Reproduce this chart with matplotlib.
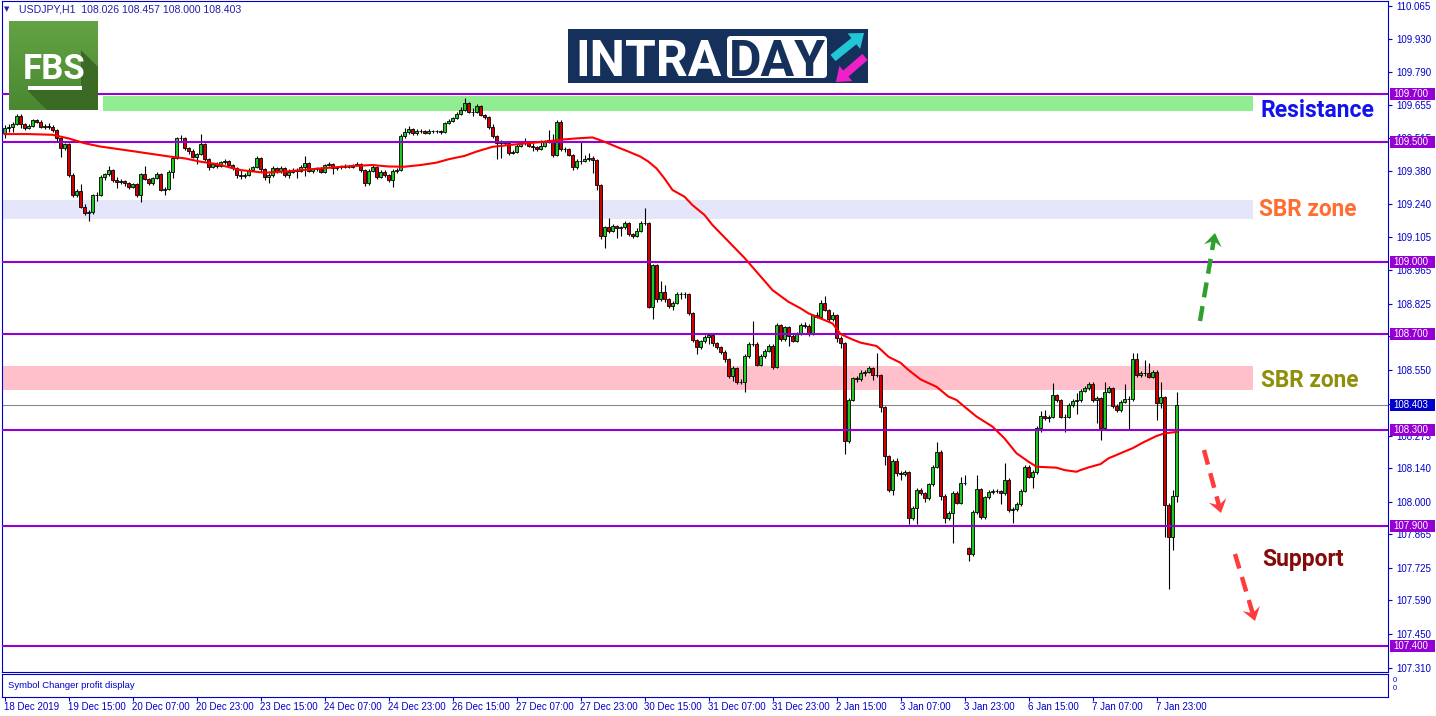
import numpy as np
import matplotlib
matplotlib.use("Agg")
import matplotlib.pyplot as plt
from matplotlib.patches import Rectangle, Polygon, FancyBboxPatch, FancyArrow
from matplotlib.transforms import blended_transform_factory

plt.rcParams['font.family'] = ['Liberation Sans', 'DejaVu Sans']

# ---------------- data (USDJPY H1) ----------------
first_open = 109.536
closes = [
    109.557, 109.564, 109.574, 109.610, 109.574, 109.557, 109.567, 109.592, 109.585, 109.564,  # 0
    109.568, 109.563, 109.549, 109.515, 109.474, 109.490, 109.363, 109.279, 109.296, 109.231,  # 10
    109.203, 109.207, 109.279, 109.279, 109.356, 109.365, 109.383, 109.342, 109.332, 109.338,  # 20
    109.329, 109.314, 109.324, 109.279, 109.365, 109.346, 109.328, 109.349, 109.365, 109.300,  # 30
    109.303, 109.377, 109.432, 109.515, 109.515, 109.474, 109.463, 109.439, 109.449, 109.490,  # 40
    109.429, 109.397, 109.408, 109.401, 109.415, 109.421, 109.404, 109.390, 109.363, 109.358,  # 50
    109.363, 109.383, 109.395, 109.432, 109.386, 109.353, 109.363, 109.390, 109.381, 109.390,  # 60
    109.363, 109.377, 109.383, 109.381, 109.397, 109.414, 109.381, 109.386, 109.389, 109.377,  # 70
    109.404, 109.409, 109.390, 109.395, 109.400, 109.397, 109.397, 109.403, 109.409, 109.383,  # 80
    109.331, 109.381, 109.397, 109.353, 109.377, 109.363, 109.342, 109.381, 109.383, 109.525,  # 90
    109.543, 109.553, 109.536, 109.545, 109.547, 109.539, 109.545, 109.547, 109.545, 109.542,  # 100
    109.578, 109.589, 109.599, 109.617, 109.633, 109.661, 109.627, 109.625, 109.650, 109.613,  # 110
    109.603, 109.564, 109.525, 109.494, 109.500, 109.494, 109.453, 109.460, 109.483, 109.494,  # 120
    109.500, 109.485, 109.480, 109.470, 109.485, 109.500, 109.510, 109.446, 109.585, 109.469,  # 130
    109.469, 109.446, 109.394, 109.422, 109.422, 109.430, 109.432, 109.425, 109.321, 109.108,  # 140
    109.144, 109.130, 109.150, 109.142, 109.144, 109.164, 109.116, 109.110, 109.130, 109.164,  # 150
    109.162, 108.814, 108.987, 108.844, 108.876, 108.844, 108.817, 108.830, 108.867, 108.867,  # 160
    108.867, 108.789, 108.675, 108.644, 108.670, 108.686, 108.696, 108.661, 108.647, 108.626,  # 170
    108.594, 108.525, 108.557, 108.501, 108.501, 108.608, 108.658, 108.658, 108.571, 108.608,  # 180
    108.630, 108.650, 108.564, 108.737, 108.680, 108.728, 108.692, 108.672, 108.700, 108.737,  # 190
    108.735, 108.700, 108.779, 108.772, 108.830, 108.800, 108.761, 108.779, 108.682, 108.661,  # 200
    108.255, 108.425, 108.515, 108.511, 108.536, 108.543, 108.557, 108.529, 108.529, 108.394,  # 210
    108.191, 108.050, 108.172, 108.119, 108.115, 108.126, 107.932, 107.977, 108.052, 108.036,  # 220
    108.015, 108.075, 108.147, 108.210, 108.025, 107.932, 107.953, 108.039, 107.997, 108.078,  # 230
    108.078, 107.783, 107.960, 108.053, 107.939, 108.019, 108.043, 108.047, 108.047, 108.036,  # 240
    108.092, 107.967, 107.970, 107.992, 108.047, 108.147, 108.106, 108.126, 108.307, 108.358,  # 250
    108.350, 108.353, 108.446, 108.425, 108.356, 108.356, 108.404, 108.422, 108.425, 108.464,  # 260
    108.474, 108.492, 108.425, 108.432, 108.307, 108.460, 108.474, 108.400, 108.383, 108.418,  # 270
    108.428, 108.428, 108.594, 108.529, 108.536, 108.536, 108.522, 108.543, 108.414, 108.436,  # 280
    107.988, 107.853, 108.026, 108.403,                                                        # 290
]
highs = [
    109.571, 109.574, 109.585, 109.617, 109.615, 109.580, 109.575, 109.596, 109.597, 109.590,
    109.577, 109.580, 109.570, 109.556, 109.520, 109.497, 109.495, 109.370, 109.305, 109.325,
    109.240, 109.215, 109.285, 109.290, 109.362, 109.372, 109.402, 109.388, 109.355, 109.345,
    109.342, 109.335, 109.330, 109.328, 109.372, 109.402, 109.352, 109.356, 109.375, 109.370,
    109.312, 109.385, 109.440, 109.520, 109.528, 109.520, 109.480, 109.470, 109.455, 109.532,
    109.494, 109.432, 109.414, 109.415, 109.420, 109.430, 109.425, 109.410, 109.395, 109.385,
    109.370, 109.390, 109.402, 109.442, 109.436, 109.390, 109.372, 109.398, 109.396, 109.398,
    109.395, 109.388, 109.392, 109.390, 109.405, 109.440, 109.418, 109.392, 109.396, 109.394,
    109.410, 109.416, 109.412, 109.401, 109.406, 109.408, 109.406, 109.410, 109.418, 109.412,
    109.388, 109.388, 109.405, 109.400, 109.384, 109.382, 109.368, 109.387, 109.392, 109.532,
    109.560, 109.568, 109.558, 109.556, 109.556, 109.552, 109.553, 109.552, 109.551, 109.550,
    109.583, 109.596, 109.606, 109.624, 109.645, 109.682, 109.668, 109.640, 109.660, 109.655,
    109.618, 109.608, 109.575, 109.530, 109.508, 109.506, 109.498, 109.466, 109.490, 109.503,
    109.515, 109.505, 109.496, 109.484, 109.510, 109.508, 109.550, 109.535, 109.592, 109.590,
    109.478, 109.474, 109.450, 109.430, 109.500, 109.445, 109.455, 109.440, 109.430, 109.325,
    109.152, 109.185, 109.160, 109.155, 109.152, 109.170, 109.168, 109.122, 109.140, 109.172,
    109.223, 109.166, 108.992, 108.990, 108.920, 108.905, 108.850, 108.838, 108.875, 108.875,
    108.875, 108.870, 108.792, 108.680, 108.677, 108.695, 108.705, 108.705, 108.668, 108.652,
    108.632, 108.598, 108.565, 108.562, 108.512, 108.615, 108.665, 108.756, 108.665, 108.616,
    108.638, 108.660, 108.660, 108.745, 108.742, 108.735, 108.732, 108.700, 108.708, 108.745,
    108.748, 108.740, 108.785, 108.790, 108.840, 108.858, 108.806, 108.792, 108.785, 108.690,
    108.668, 108.432, 108.522, 108.525, 108.548, 108.552, 108.565, 108.562, 108.619, 108.535,
    108.400, 108.196, 108.178, 108.185, 108.130, 108.133, 108.130, 107.985, 108.060, 108.060,
    108.042, 108.080, 108.153, 108.251, 108.215, 108.032, 107.962, 108.045, 108.045, 108.106,
    108.113, 107.812, 107.968, 108.113, 108.060, 108.026, 108.050, 108.056, 108.056, 108.052,
    108.161, 108.098, 107.980, 108.000, 108.054, 108.155, 108.155, 108.132, 108.315, 108.380,
    108.382, 108.362, 108.494, 108.452, 108.430, 108.365, 108.412, 108.430, 108.455, 108.472,
    108.482, 108.500, 108.498, 108.440, 108.438, 108.500, 108.482, 108.480, 108.410, 108.425,
    108.490, 108.440, 108.620, 108.620, 108.545, 108.590, 108.580, 108.552, 108.548, 108.500,
    108.440, 107.995, 108.052, 108.457,
]
lows = [
    109.518, 109.540, 109.543, 109.570, 109.560, 109.552, 109.553, 109.562, 109.580, 109.560,
    109.556, 109.555, 109.543, 109.505, 109.439, 109.465, 109.355, 109.270, 109.272, 109.225,
    109.196, 109.171, 109.200, 109.255, 109.275, 109.340, 109.360, 109.335, 109.307, 109.325,
    109.318, 109.306, 109.308, 109.272, 109.252, 109.340, 109.320, 109.322, 109.344, 109.295,
    109.280, 109.298, 109.348, 109.428, 109.505, 109.466, 109.450, 109.432, 109.410, 109.445,
    109.420, 109.385, 109.390, 109.392, 109.396, 109.408, 109.398, 109.382, 109.352, 109.345,
    109.350, 109.358, 109.378, 109.390, 109.375, 109.340, 109.331, 109.355, 109.370, 109.372,
    109.355, 109.350, 109.370, 109.350, 109.375, 109.360, 109.375, 109.372, 109.378, 109.370,
    109.372, 109.398, 109.367, 109.384, 109.388, 109.390, 109.390, 109.392, 109.398, 109.375,
    109.317, 109.322, 109.376, 109.345, 109.348, 109.355, 109.335, 109.311, 109.370, 109.378,
    109.518, 109.535, 109.528, 109.530, 109.538, 109.532, 109.534, 109.538, 109.538, 109.532,
    109.538, 109.573, 109.584, 109.594, 109.612, 109.628, 109.620, 109.610, 109.620, 109.608,
    109.595, 109.555, 109.515, 109.430, 109.432, 109.486, 109.446, 109.448, 109.455, 109.478,
    109.488, 109.478, 109.462, 109.462, 109.466, 109.478, 109.495, 109.436, 109.440, 109.462,
    109.458, 109.440, 109.385, 109.388, 109.410, 109.415, 109.420, 109.370, 109.302, 109.094,
    109.060, 109.122, 109.124, 109.100, 109.110, 109.138, 109.108, 109.098, 109.105, 109.125,
    109.155, 108.807, 108.761, 108.835, 108.838, 108.835, 108.808, 108.800, 108.825, 108.845,
    108.850, 108.780, 108.665, 108.617, 108.638, 108.664, 108.660, 108.652, 108.638, 108.618,
    108.585, 108.515, 108.505, 108.492, 108.490, 108.460, 108.600, 108.650, 108.565, 108.566,
    108.602, 108.625, 108.556, 108.560, 108.672, 108.670, 108.652, 108.665, 108.666, 108.695,
    108.725, 108.692, 108.695, 108.765, 108.768, 108.795, 108.755, 108.755, 108.665, 108.640,
    108.200, 108.245, 108.420, 108.500, 108.505, 108.525, 108.538, 108.508, 108.520, 108.375,
    108.154, 108.040, 108.030, 108.110, 108.092, 108.108, 107.908, 107.925, 107.908, 108.028,
    108.000, 108.008, 108.068, 108.140, 108.010, 107.912, 107.925, 107.828, 107.990, 107.990,
    108.070, 107.756, 107.775, 107.952, 107.930, 107.930, 108.012, 108.035, 108.038, 107.990,
    108.030, 107.958, 107.911, 107.962, 107.985, 108.040, 108.098, 108.057, 108.118, 108.290,
    108.342, 108.335, 108.348, 108.418, 108.348, 108.290, 108.350, 108.395, 108.368, 108.418,
    108.458, 108.466, 108.418, 108.330, 108.260, 108.300, 108.455, 108.392, 108.376, 108.376,
    108.412, 108.302, 108.422, 108.520, 108.522, 108.525, 108.515, 108.515, 108.340, 108.390,
    107.856, 107.636, 107.800, 108.000,
]
gap_opens = {241: 107.807}   # weekend gap (6 Jan open)

ma_bars = [0, 6, 12, 16, 20, 24, 32, 41, 45, 49, 53, 59, 65, 71, 79, 87, 92, 96, 100, 104,
           108, 111, 115, 118, 122, 130, 135, 140, 143, 147, 150, 153, 156, 159, 161, 163, 165, 167, 170, 172,
           175, 177, 185, 192, 196, 199, 201, 204, 207, 209, 212, 214, 218, 219, 221, 224, 226, 229, 233, 236,
           238, 240, 243, 247, 250, 253, 256, 258, 263, 265, 268, 269, 271, 274, 276, 278, 282, 285, 288, 290,
           293]
ma_values = [109.533, 109.533, 109.530, 109.515, 109.495, 109.481, 109.462, 109.440, 109.432, 109.418,
             109.408, 109.383, 109.372, 109.378, 109.390, 109.400, 109.404, 109.398, 109.397, 109.404,
             109.414, 109.428, 109.442, 109.460, 109.480, 109.494, 109.501, 109.511, 109.515, 109.519,
             109.501, 109.480, 109.460, 109.439, 109.418, 109.390, 109.348, 109.300, 109.272, 109.237,
             109.196, 109.154, 109.017, 108.883, 108.834, 108.807, 108.786, 108.765, 108.744, 108.700,
             108.677, 108.664, 108.650, 108.636, 108.605, 108.580, 108.550, 108.511, 108.480, 108.439,
             108.425, 108.397, 108.356, 108.314, 108.265, 108.203, 108.168, 108.147, 108.143, 108.133,
             108.126, 108.133, 108.144, 108.158, 108.182, 108.196, 108.224, 108.251, 108.275, 108.286,
             108.292]

level_prices = [109.700, 109.500, 109.000, 108.700, 108.300, 107.900, 107.400]
price_ticks = [110.065, 109.930, 109.790, 109.655, 109.515, 109.380, 109.240, 109.105, 108.965,
               108.825, 108.690, 108.550, 108.410, 108.275, 108.140, 108.000, 107.865, 107.725,
               107.590, 107.450, 107.310]
hidden_tick_labels = [108.410]   # fully covered by the current-price box in the reference
time_labels = ["18 Dec 2019", "19 Dec 15:00", "20 Dec 07:00", "20 Dec 23:00", "23 Dec 15:00",
               "24 Dec 07:00", "24 Dec 23:00", "26 Dec 15:00", "27 Dec 07:00", "27 Dec 23:00",
               "30 Dec 15:00", "31 Dec 07:00", "31 Dec 23:00", "2 Jan 15:00", "3 Jan 07:00",
               "3 Jan 23:00", "6 Jan 15:00", "7 Jan 07:00", "7 Jan 23:00"]
time_tick_bars = [0, 16, 32, 48, 64, 80, 96, 112, 128, 144, 160, 176, 192, 208, 224, 240, 256, 272, 288]
resistance_zone = (109.629, 109.692)
sbr_upper_zone = (109.179, 109.258)
sbr_lower_zone = (108.467, 108.567)
symbol = "USDJPY,H1"

# ---------------- figure geometry ----------------
W, H = 1436, 716
fig = plt.figure(figsize=(W / 100, H / 100), dpi=100)
fig.patch.set_facecolor('white')

def fx(px):
    return px / W

def fy(py):
    return 1 - py / H

BLUE = '#0000CC'
PURPLE = '#9400D3'
GREEN = '#22C822'
RED = '#D00000'

main_l, main_r, main_t, main_b = 2, 1388, 1, 672
ax = fig.add_axes([fx(main_l), fy(main_b), (main_r - main_l) / W, (main_b - main_t) / H])
px_per_bar = 4.0
x0 = -0.625
ax.set_xlim(x0, x0 + (main_r - main_l) / px_per_bar)
px_per_price = 240.0
ref_price, ref_py = 109.7, 94
ax.set_ylim(ref_price - (main_b - ref_py) / px_per_price, ref_price + (ref_py - main_t) / px_per_price)

def bx(px):
    return x0 + (px - main_l) / px_per_bar

n = len(closes)
idx = np.arange(n)
c = np.array(closes)
o = np.array([first_open] + closes[:-1])
for k, v in gap_opens.items():
    o[k] = v
up = c >= o

# zones
ax.add_patch(Rectangle((bx(103), resistance_zone[0]), bx(1253) - bx(103),
                       resistance_zone[1] - resistance_zone[0], facecolor='#90EE90', edgecolor='none', zorder=1))
ax.add_patch(Rectangle((bx(2), sbr_upper_zone[0]), bx(1253) - bx(2),
                       sbr_upper_zone[1] - sbr_upper_zone[0], facecolor='#E6E6FA', edgecolor='none', zorder=1))
ax.add_patch(Rectangle((bx(2), sbr_lower_zone[0]), bx(1253) - bx(2),
                       sbr_lower_zone[1] - sbr_lower_zone[0], facecolor='#FFC0CB', edgecolor='none', zorder=1))

# current price line
ax.axhline(closes[-1], color='#8a8a8a', lw=0.8, zorder=1.5)

# candles
ax.vlines(idx, lows, highs, color='black', linewidth=0.8, zorder=2.9)
ax.bar(idx, np.abs(c - o), bottom=np.minimum(c, o), width=0.55,
       color=np.where(up, GREEN, RED), edgecolor='black', linewidth=0.6, zorder=3)

# horizontal levels
for p in level_prices:
    ax.axhline(p, color=PURPLE, lw=1.5, zorder=5)

# moving average
ax.plot(ma_bars, ma_values, color='#FF0000', lw=1.5, zorder=6, solid_joinstyle='round')

# axes styling
ax.set_xticks([])
ax.yaxis.tick_right()
ax.set_yticks(price_ticks)
ax.set_yticklabels(["" if t in hidden_tick_labels else f"{t:.3f}" for t in price_ticks])
ax.tick_params(axis='y', direction='out', length=3, width=0.8, color=BLUE,
               labelcolor=BLUE, labelsize=7, pad=3.2)
for s in ax.spines.values():
    s.set_color(BLUE)
    s.set_linewidth(0.8)

# price label boxes on the right axis
trans = blended_transform_factory(fig.transFigure, ax.transData)
box_h = 12 / px_per_price
for p in level_prices + [closes[-1]]:
    fc = '#0000CD' if p == closes[-1] else PURPLE
    ax.add_patch(Rectangle((fx(1390), p - box_h / 2), fx(1435) - fx(1390), box_h,
                           transform=trans, facecolor=fc, edgecolor='none', clip_on=False, zorder=10))
    ax.text(fx(1393.5), p, f"{p:.3f}", transform=trans, color='white', fontsize=7,
            va='center', ha='left', zorder=11, clip_on=False)

# ---------------- sub window + time axis ----------------
sub = fig.add_axes([fx(main_l), fy(697), (main_r - main_l) / W, (697 - 674) / H])
sub.set_xlim(ax.get_xlim())
sub.set_ylim(0, 1)
sub.set_yticks([])
sub.set_xticks(time_tick_bars)
sub.set_xticklabels(time_labels)
sub.tick_params(axis='x', direction='out', length=3, width=0.8, color=BLUE,
                labelcolor=BLUE, labelsize=7, pad=0.6)
for lab in sub.get_xticklabels():
    lab.set_ha('left')
for s in sub.spines.values():
    s.set_color(BLUE)
    s.set_linewidth(0.8)
sub.text(6 / (main_r - main_l), 0.5, "Symbol Changer profit display", transform=sub.transAxes,
         color=BLUE, fontsize=6.8, va='center', ha='left')

# ---------------- overlay (logos, annotations) ----------------
ov = fig.add_axes([0, 0, 1, 1], zorder=20)
ov.patch.set_alpha(0)
ov.axis('off')

ov.text(1393, 680, "0", color=BLUE, fontsize=5.5, va='center', ha='left')
ov.text(1393, 688, "0", color=BLUE, fontsize=5.5, va='center', ha='left')

title_col = '#1f1fa8'
ov.text(4, 9, "\u25BC", color=title_col, fontsize=5, family='DejaVu Sans', va='center', ha='left')
ov.text(19, 9.5, f"{symbol}  {o[-1]:.3f} {highs[-1]:.3f} {lows[-1]:.3f} {closes[-1]:.3f}",
        color=title_col, fontsize=7.6, va='center', ha='left')

# FBS logo
grad = np.linspace(0, 1, 60)[:, None, None]
top_c = np.array([0x63, 0xA3, 0x44]) / 255
bot_c = np.array([0x4A, 0x88, 0x30]) / 255
img = top_c * (1 - grad) + bot_c * grad
ov.imshow(img, extent=(9, 98, 110, 21), aspect='auto', zorder=1, interpolation='bilinear')
ov.add_patch(Polygon([(81, 50), (98, 67), (98, 110), (47, 110), (28, 91), (28, 86), (81, 86)],
                     closed=True, facecolor='#3b6a25', edgecolor='none', zorder=2))
ov.text(54, 79, "FBS", color='white', fontsize=25, fontweight='bold', family='Roboto',
        ha='center', va='baseline', zorder=3)
ov.add_patch(Rectangle((28, 86), 54, 4, facecolor='white', edgecolor='none', zorder=3))

# INTRADAY logo
NAVY = '#16305c'
ov.add_patch(Rectangle((568, 29), 300, 54, facecolor=NAVY, edgecolor='none', zorder=1))
ov.add_patch(FancyBboxPatch((727, 36), 100, 42, boxstyle='round,pad=0,rounding_size=4',
                            facecolor='white', edgecolor='none', zorder=2))
ov.text(575, 75.5, "INTRA", color='white', fontsize=36, fontweight='bold', family='Roboto',
        ha='left', va='baseline', zorder=3)
ov.text(777, 75.5, "DAY", color=NAVY, fontsize=36, fontweight='bold', family='Roboto',
        ha='center', va='baseline', zorder=3)
ov.add_patch(FancyArrow(833, 58, 31, -25, width=8, head_width=20, head_length=13,
                        length_includes_head=True, facecolor='#22C7D6', edgecolor='none', zorder=3))
ov.add_patch(FancyArrow(865, 57, -29, 25, width=8, head_width=20, head_length=13,
                        length_includes_head=True, facecolor='#F020C8', edgecolor='none', zorder=3))

# annotation texts
ov.text(1261, 117, "Resistance", color='#1212EE', fontsize=16.5, fontweight='bold', family='Roboto',
        ha='left', va='baseline')
ov.text(1259, 216, "SBR zone", color='#FF6E30', fontsize=16.3, fontweight='bold', family='Roboto',
        ha='left', va='baseline')
ov.text(1261, 387, "SBR zone", color='#8F8F0C', fontsize=16.3, fontweight='bold', family='Roboto',
        ha='left', va='baseline')
ov.text(1262, 566, "Support", color='#850A0A', fontsize=16.5, fontweight='bold', family='Roboto',
        ha='left', va='baseline')

# dashed arrows
def dashed_arrow(tail, tip, color):
    t = np.array(tail, float)
    h = np.array(tip, float)
    d = h - t
    d /= np.hypot(*d)
    perp = np.array([-d[1], d[0]])
    end = h - 8 * d
    ov.plot([t[0], end[0]], [t[1], end[1]], color=color, lw=3.2,
            linestyle=(0, (3.4, 2.0)), dash_capstyle='butt', zorder=5)
    w1 = h - 13 * d + 9 * perp
    w2 = h - 13 * d - 9 * perp
    notch = h - 8 * d
    ov.add_patch(Polygon([w1, h, w2, notch], closed=True, facecolor=color, edgecolor='none', zorder=5))

dashed_arrow((1200, 321), (1215, 233), '#2EA02E')
dashed_arrow((1204, 450), (1221, 513), '#FF3B3B')
dashed_arrow((1235, 554), (1255, 621), '#FF3B3B')

ov.set_xlim(0, W)
ov.set_ylim(H, 0)

fig.savefig("out.png", dpi=100, facecolor='white')
